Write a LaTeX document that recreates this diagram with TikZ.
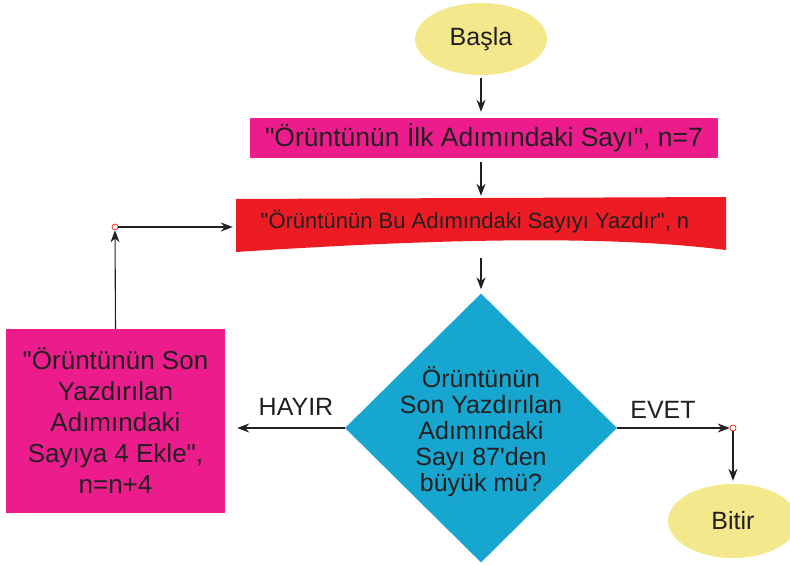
\documentclass[tikz,border=0pt]{standalone}
\usepackage{fontspec}
\setmainfont{Liberation Sans}[Ligatures=TeXOff]
\usetikzlibrary{shapes.geometric,arrows.meta}
\definecolor{ylw}{HTML}{F3E98C}
\definecolor{pnk}{HTML}{EC1C8C}
\definecolor{rd}{HTML}{ED1C24}
\definecolor{blu}{HTML}{17A6CF}
\definecolor{txt}{HTML}{231F20}
\tikzset{
  arr/.style={-{Stealth[length=12pt,width=9pt]}, line width=1.1pt, draw=txt},
  term/.style={ellipse, fill=ylw, inner sep=0pt, text=txt, font=\fontsize{25}{30}\selectfont},
  procbox/.style={rectangle, fill=pnk, inner sep=0pt, text=txt, align=center},
  lbl/.style={text=txt, font=\fontsize{25}{30}\selectfont, inner sep=0pt},
  dot/.style={circle, draw=red, fill=white, line width=0.6pt, minimum size=6pt, inner sep=0pt}
}
\begin{document}
\begin{tikzpicture}[x=1pt,y=-1pt]
\useasboundingbox (0,0) rectangle (790,565);
% start
\node[term, minimum width=132pt, minimum height=72pt] (basla) at (481,39) {Başla};
% init box
\node[procbox, minimum width=468pt, minimum height=40pt, font=\fontsize{26.5}{30}\selectfont] (init) at (484,138) {"Örüntünün İlk Adımındaki Sayı", n=7};
% document (output) shape
\fill[rd] (236,199) -- (726,197) -- (726,250) .. controls (600,234) and (420,240) .. (236,252) -- cycle;
\node[inner sep=0pt, minimum width=490pt, minimum height=54pt] (doc) at (481,225) {};
\node[inner sep=0pt, text=txt, font=\fontsize{22}{26}\selectfont] (doctxt) at (475,222) {"Örüntünün Bu Adımındaki Sayıyı Yazdır", n};
% decision
\node[diamond, fill=blu, minimum width=272pt, minimum height=269pt, inner sep=0pt] (dec) at (481,428) {};
\node[align=center, text=txt, inner sep=0pt, font=\fontsize{25}{26}\selectfont] (dectxt) at (481,432) {Örüntünün\\Son Yazdırılan\\Adımındaki\\Sayı 87'den\\büyük mü?};
% left process
\node[procbox, minimum width=219pt, minimum height=184pt, font=\fontsize{26}{31}\selectfont] (inc) at (115.5,421) {"Örüntünün Son\\Yazdırılan\\Adımındaki\\Sayıya 4 Ekle",\\n=n+4};
% end
\node[term, minimum width=130pt, minimum height=74pt] (bitir) at (733,521) {Bitir};
% connector dots
\node[dot] (lc) at (115,227) {};
\node[dot] (rc) at (733,428) {};
% labels
\node[lbl] (hayir) at (296,407) {HAYIR};
\node[lbl] (evet) at (663,410) {EVET};
% connectors
\draw[arr] ([yshift=-3pt]basla.south) -- ([yshift=6pt]basla.south |- init.north);
\draw[arr] ([yshift=-4pt]basla.south |- init.south) -- ([yshift=2pt]basla.south |- doc.north);
\draw[arr] ([yshift=-33pt]doc.center) -- ([yshift=4pt]dec.north);
\draw[arr] (dec.west) -- ([xshift=12pt]inc.east |- dec.west);
\draw[arr] (dec.east) -- (rc.west);
\draw[arr] (rc.south) -- ([yshift=3pt]bitir.north);
\draw[arr] (inc.north) -- (lc.south);
\draw[arr] (lc.east) -- ([xshift=-3pt]doc.west |- lc.east);
\end{tikzpicture}
\end{document}
